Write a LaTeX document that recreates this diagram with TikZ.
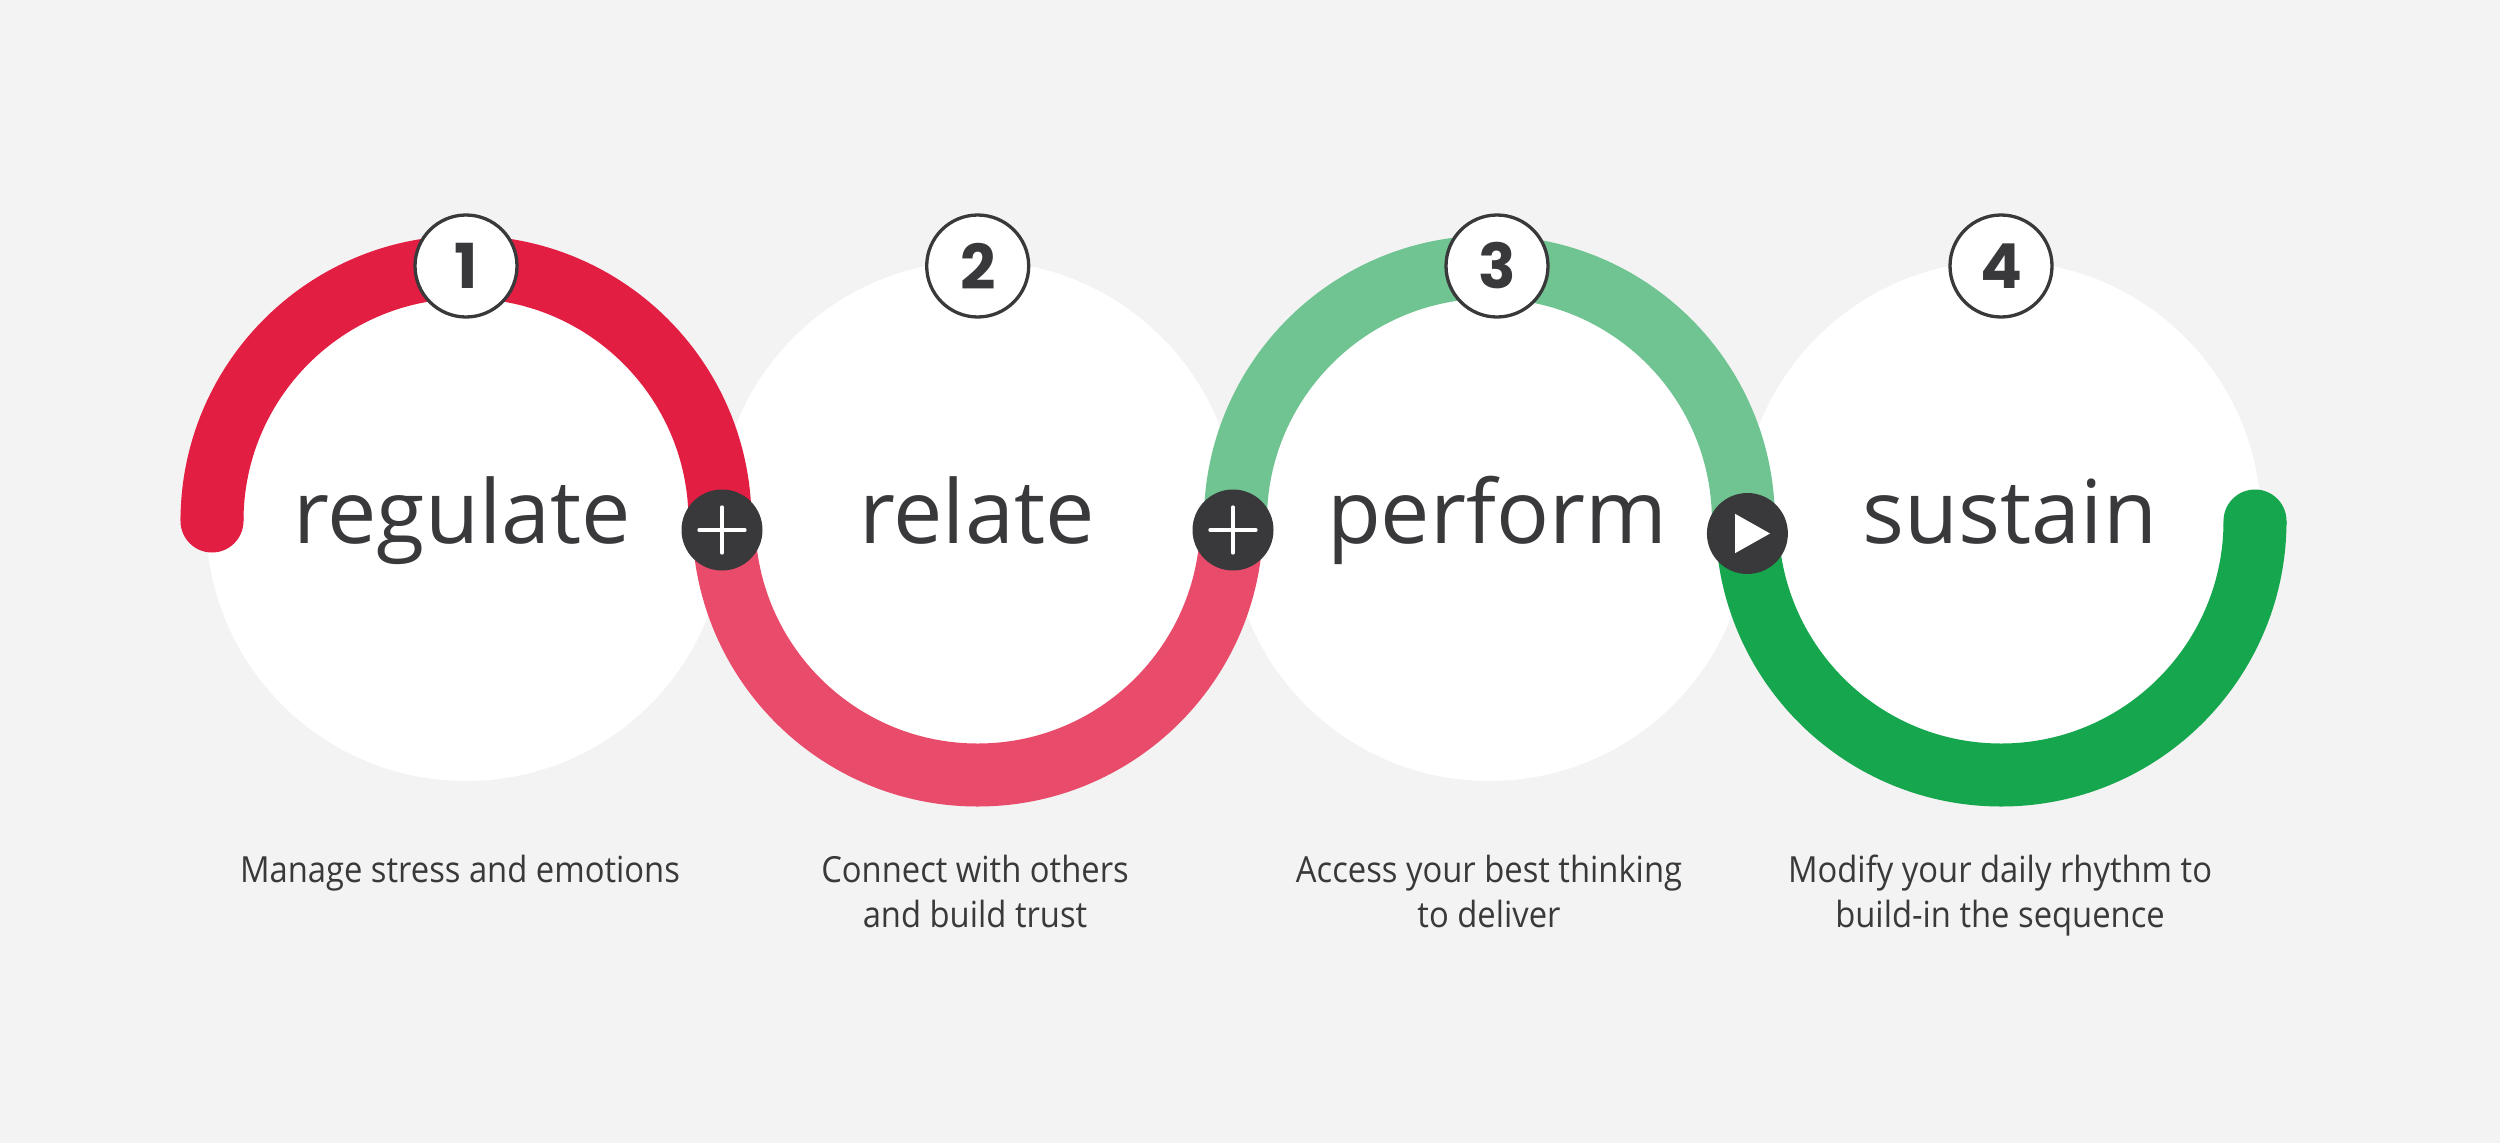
\documentclass[tikz,border=0pt]{standalone}
\usepackage{fontspec}
\setmainfont{Open Sans}
\newfontfamily\descfont[FakeStretch=0.91]{Open Sans}
\newfontfamily\numfont{Poppins}
\definecolor{cbg}{HTML}{F3F3F3}
\definecolor{cred}{HTML}{E31E43}
\definecolor{cpink}{HTML}{E94B6A}
\definecolor{clgreen}{HTML}{70C491}
\definecolor{cdgreen}{HTML}{15A64E}
\definecolor{cdark}{HTML}{39393B}
\begin{document}
\begin{tikzpicture}[x=1pt,y=-1pt,
  disc/.style={circle,fill=white,minimum size=520pt,inner sep=0pt},
  ring/.style={line width=63pt,line cap=butt},
  badge/.style={circle,draw=cdark,line width=3.3pt,fill=white,minimum size=102pt,inner sep=0pt,
    text=cdark,font=\numfont\bfseries\fontsize{62}{62}\selectfont},
  joint/.style={circle,fill=cdark,minimum size=81pt,inner sep=0pt},
  plusline/.style={white,line width=3.3pt,line cap=round},
  word/.style={anchor=base,inner sep=0pt,text=cdark,font=\fontsize{88}{88}\selectfont},
  desctext/.style={anchor=base,inner sep=0pt,text=cdark,font=\descfont\fontsize{36}{45}\selectfont}
]
\fill[cbg] (0,0) rectangle (2500,1143);
\useasboundingbox (0,0) rectangle (2500,1143);

% white discs
\node[disc] (c1) at (466,521) {};
\node[disc] (c2) at (977.7,521) {};
\node[disc] (c3) at (1489.4,521) {};
\node[disc] (c4) at (2001,521) {};

% arcs
\draw[ring,cred] ([xshift=-254pt]c1.center) arc[start angle=180,end angle=360,radius=254];
\fill[cred] ([xshift=-254pt]c1.center) circle[radius=31.5];
\draw[ring,cpink] ([xshift=-254pt]c2.center) arc[start angle=180,end angle=0,radius=254];
\draw[ring,clgreen] ([xshift=-254pt]c3.center) arc[start angle=180,end angle=360,radius=254];
\draw[ring,cdgreen] ([xshift=-254pt]c4.center) arc[start angle=180,end angle=0,radius=254];
\fill[cdgreen] ([xshift=254pt]c4.center) circle[radius=31.5];

% number badges
\node[badge] (n1) at (466,266) {1};
\node[badge] (n2) at (977.7,266) {2};
\node[badge] (n3) at (1497,266) {3};
\node[badge] (n4) at (2001,266) {4};

% joints
\node[joint] (j1) at (722,530) {};
\node[joint] (j2) at (1233,530) {};
\node[joint] (j3) at (1747.4,533.5) {};
\draw[plusline] ([xshift=-23pt]j1.center) -- ([xshift=23pt]j1.center);
\draw[plusline] ([yshift=-23pt]j1.center) -- ([yshift=23pt]j1.center);
\draw[plusline] ([xshift=-23pt]j2.center) -- ([xshift=23pt]j2.center);
\draw[plusline] ([yshift=-23pt]j2.center) -- ([yshift=23pt]j2.center);
\fill[white] ([xshift=-12.4pt,yshift=19.7pt]j3.center) -- ([xshift=-12.4pt,yshift=-19.7pt]j3.center) -- ([xshift=22.6pt]j3.center) -- cycle;

% main words
\node[word] (w1) at (462,543) {regulate};
\node[word] (w2) at (977,543) {relate};
\node[word] (w3) at (1497,543) {perform};
\node[word] (w4) at (2010,543) {sustain};

% descriptions
\node[desctext] (d1) at (460,882) {Manage stress and emotions};
\node[desctext] (d2a) at (975,882) {Connect with others};
\node[desctext] (d2b) at (975,927) {and build trust};
\node[desctext] (d3a) at (1489,882) {Access your best thinking};
\node[desctext] (d3b) at (1489,927) {to deliver};
\node[desctext] (d4a) at (2000,882) {Modify your daily rhythm to};
\node[desctext] (d4b) at (2000,927) {build-in the sequence};
\end{tikzpicture}
\end{document}
